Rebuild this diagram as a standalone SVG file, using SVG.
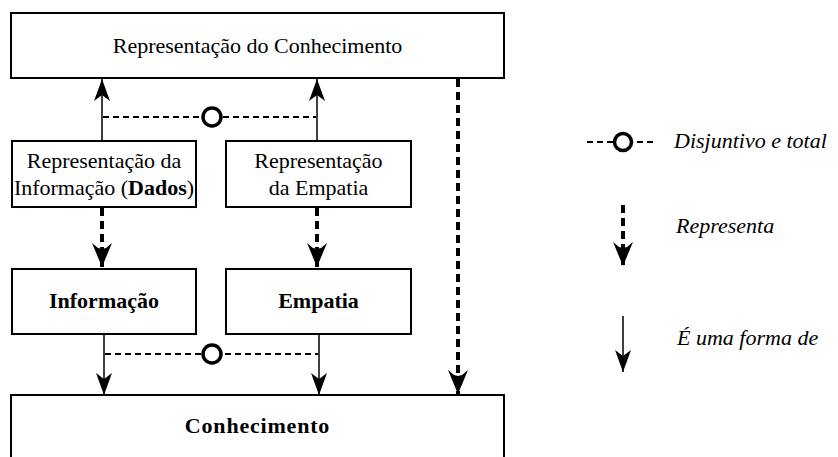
<svg xmlns="http://www.w3.org/2000/svg" width="838" height="457" viewBox="0 0 838 457">
<style>
.box{fill:#fff;stroke:#000;stroke-width:2}
.t{font-family:"Liberation Serif","Times New Roman",serif;font-size:22px;fill:#000;text-anchor:middle}
.b{font-weight:bold}
.l{font-family:"Liberation Serif","Times New Roman",serif;font-size:22px;font-style:italic;fill:#000}
.thin{stroke:#000;stroke-width:1.5;fill:none}
.dash{stroke:#000;stroke-width:2;stroke-dasharray:6 4;fill:none}
.thick{stroke:#000;stroke-width:4;stroke-dasharray:8 5;fill:none}
.circ{fill:#fff;stroke:#000;stroke-width:3.5}
</style>
<defs>
<marker id="ah" markerUnits="userSpaceOnUse" markerWidth="30" markerHeight="24" refX="22" refY="9" orient="auto" viewBox="0 0 30 24">
<path d="M22,9 L0,1 L6,9 L0,17 Z" fill="#000"/>
</marker>
<marker id="ahb" markerUnits="userSpaceOnUse" markerWidth="30" markerHeight="24" refX="24" refY="11" orient="auto" viewBox="0 0 30 24">
<path d="M24,11 L0,1 L5,7 L6,11 L5,15 L0,21 Z" fill="#000"/>
</marker>
</defs>
<g id="rep-conhecimento">
<rect class="box" x="11" y="13" width="493" height="65"/>
<text class="t" x="257.5" y="53">Representação do Conhecimento</text>
</g>
<g id="rep-informacao">
<rect class="box" x="12" y="141" width="184" height="66"/>
<text class="t" x="104" y="168">Representação da</text>
<text class="t" x="104" y="195">Informação (<tspan class="b">Dados</tspan>)</text>
</g>
<g id="rep-empatia">
<rect class="box" x="226" y="141" width="185" height="66"/>
<text class="t" x="318.5" y="168">Representação</text>
<text class="t" x="318.5" y="195">da Empatia</text>
</g>
<g id="informacao">
<rect class="box" x="12" y="269" width="184" height="65"/>
<text class="t b" x="104" y="308">Informação</text>
</g>
<g id="empatia">
<rect class="box" x="226" y="269" width="185" height="65"/>
<text class="t b" x="318.5" y="308">Empatia</text>
</g>
<g id="conhecimento">
<rect class="box" x="11" y="395" width="493" height="80"/>
<text class="t b" x="257.5" y="433" letter-spacing="0.8">Conhecimento</text>
</g>
<g id="connectors">
<line class="thin" x1="102" y1="141" x2="102" y2="79" marker-end="url(#ah)"/>
<line class="thin" x1="317" y1="141" x2="317" y2="79" marker-end="url(#ah)"/>
<line class="dash" x1="103" y1="117" x2="316" y2="117"/>
<circle class="circ" cx="212" cy="117" r="9"/>
<line class="thick" x1="102" y1="208" x2="102" y2="267" marker-end="url(#ahb)"/>
<line class="thick" x1="317" y1="208" x2="317" y2="267" marker-end="url(#ahb)"/>
<line class="thin" x1="104" y1="334" x2="104" y2="395" marker-end="url(#ah)"/>
<line class="thin" x1="319" y1="334" x2="319" y2="395" marker-end="url(#ah)"/>
<line class="dash" x1="105" y1="354" x2="318" y2="354"/>
<circle class="circ" cx="212" cy="354" r="9"/>
<line class="thick" x1="458" y1="79" x2="458" y2="394" marker-end="url(#ahb)"/>
</g>
<g id="legend">
<line class="dash" x1="587" y1="142" x2="655" y2="142" stroke-dasharray="5 3"/>
<circle class="circ" cx="623" cy="142" r="8.5"/>
<text class="l" x="674" y="148">Disjuntivo e total</text>
<line class="thick" x1="623" y1="205" x2="623" y2="266" marker-end="url(#ahb)"/>
<text class="l" x="676" y="233">Representa</text>
<line class="thin" x1="623" y1="316" x2="623" y2="372" marker-end="url(#ah)"/>
<text class="l" x="677" y="345">É uma forma de</text>
</g>
</svg>
